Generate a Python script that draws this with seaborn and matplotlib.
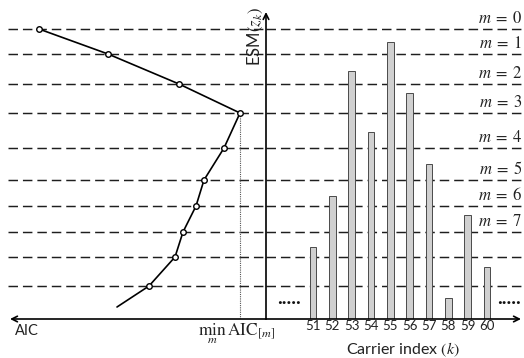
import numpy as np
import pandas as pd
import matplotlib
matplotlib.use("Agg")
import matplotlib.pyplot as plt
import seaborn as sns

# ---- data ----
carriers = ["51", "52", "53", "54", "55", "56", "57", "58", "59", "60"]
esm_values = [0.72, 1.23, 2.48, 1.87, 2.77, 2.26, 1.55, 0.21, 1.04, 0.52]
threshold_levels = [2.90, 2.65, 2.35, 2.06, 1.71, 1.39, 1.13, 0.87, 0.62, 0.33]
level_labels = [r"$m\;=\;0$", r"$m\;=\;1$", r"$m\;=\;2$", r"$m\;=\;3$",
                r"$m\;=\;4$", r"$m\;=\;5$", r"$m\;=\;6$", r"$m\;=\;7$"]
aic_values = [22.7, 15.8, 8.7, 2.6, 4.2, 6.2, 7.0, 8.3, 9.1, 11.7]
aic_tail_aic = [11.7, 14.9]
aic_tail_esm = [0.33, 0.12]

sns.set_theme(style="white")
plt.rcParams["font.family"] = ["Lato", "DejaVu Sans"]
plt.rcParams["mathtext.fontset"] = "stix"

W, H, DPI = 524, 358, 100
fig = plt.figure(figsize=(W / DPI, H / DPI), dpi=DPI)

base_px = 319
axis_x_px = 266
yb = (H - base_px) / H
yh = base_px / H
ymax = base_px / 100.0

axL = fig.add_axes([0, yb, axis_x_px / W, yh])
axR = fig.add_axes([axis_x_px / W, yb, (W - axis_x_px) / W, yh])

spacing = 19.33
xlimR = (-(313 - axis_x_px) / spacing, 9 + (W - 487) / spacing)
xlimL = (axis_x_px / 10.0, 0)

dash = (0, (6.5, 3.4))
dcol = "#1e1e1e"

# bars
df = pd.DataFrame({"k": carriers, "esm": esm_values})
sns.barplot(data=df, x="k", y="esm", ax=axR, width=0.36, color="#d0d0d0",
            edgecolor="#4a4a4a", linewidth=0.7, saturation=1, zorder=3)
axR.set_xlim(*xlimR)
axR.set_ylim(0, ymax)
for i, lab in enumerate(carriers):
    axR.text(i, -0.075, lab, ha="center", va="center", fontsize=9.5,
             color="#222222", clip_on=False)

# AIC curve
dfa = pd.DataFrame({"aic": aic_values, "esm": threshold_levels})
sns.lineplot(data=dfa, x="aic", y="esm", ax=axL, sort=False, color="black",
             lw=1.2, zorder=4)
axL.plot(aic_tail_aic, aic_tail_esm, color="black", lw=1.2, zorder=4)
sns.scatterplot(data=dfa, x="aic", y="esm", ax=axL, marker="o", s=16,
                facecolor="white", edgecolor="black", linewidth=1.0, zorder=5)
axL.set_xlim(*xlimL)
axL.set_ylim(0, ymax)
amin = min(aic_values)
lmin = threshold_levels[aic_values.index(amin)]
axL.plot([amin, amin], [0, lmin], color="#555555", lw=0.8, ls=(0, (1, 1)), zorder=2)

for ax in (axL, axR):
    ax.axis("off")
    ax.patch.set_alpha(0)

for lv in threshold_levels:
    axL.axhline(lv, xmin=8 / axis_x_px, xmax=1, color=dcol, lw=1.05, ls=dash, zorder=1)
    axR.axhline(lv, xmin=0, xmax=1, color=dcol, lw=1.05, ls=dash, zorder=1)

# level labels
for lv, lab in zip(threshold_levels, level_labels):
    axR.annotate(lab, xy=(1, lv), xycoords=("axes fraction", "data"),
                 xytext=(-1, 2), textcoords="offset points",
                 ha="right", va="bottom", fontsize=12, color="#222222")

# axes arrows
ap = dict(arrowstyle="->", lw=1.2, color="black", shrinkA=0, shrinkB=0,
          mutation_scale=10)
axR.annotate("", xy=(0, (base_px - 12) / 100.0), xytext=(0, 0),
             xycoords=("axes fraction", "data"), arrowprops=ap, annotation_clip=False)
axR.annotate("", xy=((521 - axis_x_px) / (W - axis_x_px), 0), xytext=(0, 0),
             xycoords="axes fraction", arrowprops=ap, annotation_clip=False)
axL.annotate("", xy=(10 / axis_x_px, 0), xytext=(1, 0),
             xycoords="axes fraction", arrowprops=ap, annotation_clip=False)

# texts
fig.text(255 / W, 1 - 37 / H, r"ESM$(z_k)$", rotation=90, ha="center", va="center",
         fontsize=12, color="#222222")
fig.text(27 / W, 1 - 331 / H, "AIC", ha="center", va="center", fontsize=10.5,
         color="#222222")
fig.text(237 / W, 1 - 334 / H, r"$\min_{m}\,\mathrm{AIC}_{[m]}$", ha="center",
         va="center", fontsize=12.5, color="#222222")
fig.text(403 / W, 1 - 350 / H, r"Carrier index $(k)$", ha="center", va="center",
         fontsize=11.5, color="#222222")
fig.text(289 / W, 1 - 299 / H, ".....", ha="center", va="center", fontsize=14,
         fontweight="bold", color="#111111")
fig.text(509 / W, 1 - 299 / H, ".....", ha="center", va="center", fontsize=14,
         fontweight="bold", color="#111111")

fig.savefig("out.png", dpi=DPI)
